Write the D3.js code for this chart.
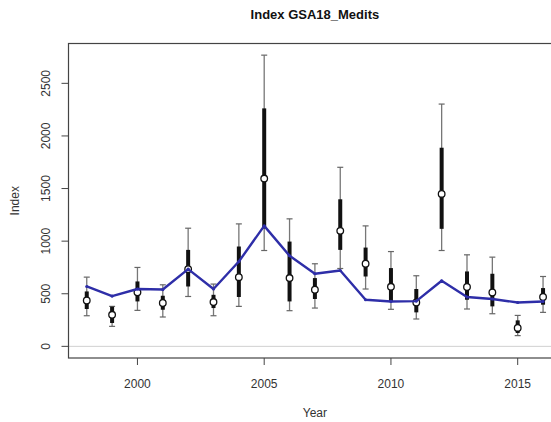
<html>
<head>
<title>Index GSA18_Medits</title>
<script src="https://cdn.jsdelivr.net/npm/d3@7"></script>
<style>
body { margin: 0; background: white; }
text { font-family: "Liberation Sans", Arial, sans-serif; fill: #333; }
</style>
</head>
<body>
<svg id="chart"></svg>
<script>
var years =      [1998, 1999, 2000, 2001, 2002, 2003, 2004, 2005, 2006, 2007, 2008, 2009, 2010, 2011, 2012, 2013, 2014, 2015, 2016];
var index_pt =   [436,  300,  514,  412,  734,  421,  658,  1595, 649,  538,  1098, 785,  566,  417,  1449, 564,  512,  175,  469];
var ci_low =     [291,  190,  342,  279,  474,  291,  380,  911,  339,  364,  740,  545,  352,  260,  911,  355,  310,  102,  323];
var ci_high =    [658,  380,  750,  585,  1123, 592,  1164, 2768, 1212, 785,  1702, 1145, 901,  671,  2303, 870,  848,  294,  664];
var iq_low =     [355,  222,  427,  348,  569,  364,  469,  1120, 427,  450,  917,  664,  427,  323,  1117, 443,  380,  127,  396];
var iq_high =    [522,  377,  617,  481,  917,  490,  949,  2262, 996,  649,  1398, 939,  744,  545,  1888, 712,  690,  247,  554];
var model_line = [569,  478,  545,  540,  734,  545,  806,  1145, 861,  690,  721,  443,  427,  430,  623,  469,  450,  417,  427];
var x_ticks = [2000, 2005, 2010, 2015];
var y_ticks = [0, 500, 1000, 1500, 2000, 2500];

var W = 551, H = 422;
var p_left = 68.5, p_right = 561.3, p_top = 43.5, p_bottom = 358;

var svg = d3.select("#chart").attr("width", W).attr("height", H);

// R style limits: 4% extension
var xr = d3.extent(years), xpad = (xr[1] - xr[0]) * 0.04;
var ymax = d3.max(ci_high), ypad = ymax * 0.04;
var x = d3.scaleLinear().domain([xr[0] - xpad, xr[1] + xpad]).range([p_left, p_right]);
var y = d3.scaleLinear().domain([-ypad, ymax + ypad]).range([p_bottom, p_top]);

var data = years.map(function(d, i) {
  return {yr: d, pt: index_pt[i], lo: ci_low[i], hi: ci_high[i], qlo: iq_low[i], qhi: iq_high[i], m: model_line[i]};
});

// zero line
svg.append("line").attr("x1", p_left).attr("x2", p_right).attr("y1", y(0)).attr("y2", y(0))
  .style("stroke", "#d0d0d0").style("stroke-width", 1);

// whiskers
var g = svg.append("g");
g.selectAll("line.whisk").data(data).enter().append("line")
  .attr("x1", function(d) { return x(d.yr); }).attr("x2", function(d) { return x(d.yr); })
  .attr("y1", function(d) { return y(d.lo); }).attr("y2", function(d) { return y(d.hi); })
  .style("stroke", "#777").style("stroke-width", 1.3);
g.selectAll("line.caphi").data(data).enter().append("line")
  .attr("x1", function(d) { return x(d.yr) - 3; }).attr("x2", function(d) { return x(d.yr) + 3; })
  .attr("y1", function(d) { return y(d.hi); }).attr("y2", function(d) { return y(d.hi); })
  .style("stroke", "#666").style("stroke-width", 1.2);
g.selectAll("line.caplo").data(data).enter().append("line")
  .attr("x1", function(d) { return x(d.yr) - 3; }).attr("x2", function(d) { return x(d.yr) + 3; })
  .attr("y1", function(d) { return y(d.lo); }).attr("y2", function(d) { return y(d.lo); })
  .style("stroke", "#666").style("stroke-width", 1.2);

// thick bars
g.selectAll("line.thick").data(data).enter().append("line")
  .attr("x1", function(d) { return x(d.yr); }).attr("x2", function(d) { return x(d.yr); })
  .attr("y1", function(d) { return y(d.qlo); }).attr("y2", function(d) { return y(d.qhi); })
  .style("stroke", "#111").style("stroke-width", 4);

// points
g.selectAll("circle.pt").data(data).enter().append("circle")
  .attr("cx", function(d) { return x(d.yr); }).attr("cy", function(d) { return y(d.pt); })
  .attr("r", 3.3).style("fill", "white").style("stroke", "#111").style("stroke-width", 1.3);

// blue line
var line = d3.line().x(function(d) { return x(d.yr); }).y(function(d) { return y(d.m); });
svg.append("path").datum(data).attr("d", line)
  .style("fill", "none").style("stroke", "#2e2ea8").style("stroke-width", 2.4).style("stroke-linejoin", "round");
svg.append("g").selectAll("circle").data(data).enter().append("circle")
  .attr("cx", function(d) { return x(d.yr); }).attr("cy", function(d) { return y(d.m); })
  .attr("r", 1.6).style("fill", "#2e2ea8");

// box
svg.append("rect").attr("x", p_left).attr("y", p_top).attr("width", p_right - p_left).attr("height", p_bottom - p_top)
  .style("fill", "none").style("stroke", "#444").style("stroke-width", 1.2);

// x axis
var xa = svg.append("g");
xa.selectAll("line").data(x_ticks).enter().append("line")
  .attr("x1", function(d) { return x(d); }).attr("x2", function(d) { return x(d); })
  .attr("y1", p_bottom).attr("y2", p_bottom + 7).style("stroke", "#444");
xa.selectAll("text").data(x_ticks).enter().append("text")
  .attr("x", function(d) { return x(d); }).attr("y", 388).attr("text-anchor", "middle")
  .style("font-size", "12px").text(function(d) { return d; });

// y axis
var ya = svg.append("g");
ya.selectAll("line").data(y_ticks).enter().append("line")
  .attr("x1", p_left - 7).attr("x2", p_left).attr("y1", function(d) { return y(d); }).attr("y2", function(d) { return y(d); })
  .style("stroke", "#444");
ya.selectAll("text").data(y_ticks).enter().append("text")
  .attr("transform", function(d) { return "translate(50," + y(d) + ") rotate(-90)"; })
  .attr("text-anchor", "middle").style("font-size", "12px").text(function(d) { return d; });

// titles
svg.append("text").attr("x", (p_left + p_right) / 2).attr("y", 19).attr("text-anchor", "middle")
  .style("font-size", "13px").style("font-weight", "bold").style("fill", "#111").text("Index GSA18_Medits");
svg.append("text").attr("x", (p_left + p_right) / 2).attr("y", 417).attr("text-anchor", "middle")
  .style("font-size", "12px").text("Year");
svg.append("text").attr("transform", "translate(19," + (p_top + p_bottom) / 2 + ") rotate(-90)")
  .attr("text-anchor", "middle").style("font-size", "12px").text("Index");
</script>
</body>
</html>
